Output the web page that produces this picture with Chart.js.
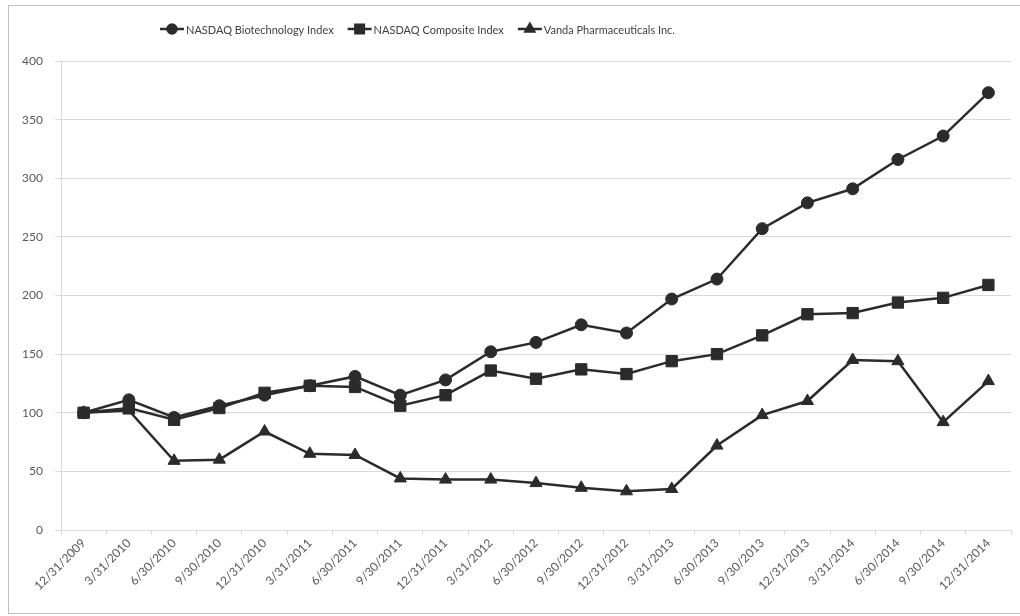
<!DOCTYPE html>
<html>
<head>
<meta charset="utf-8">
<script src="https://cdn.jsdelivr.net/npm/chart.js@4.4.1/dist/chart.umd.min.js"></script>
<style>
  html, body { margin: 0; padding: 0; background: #fff; }
  #wrap { width: 1020px; height: 616px; position: relative; }
</style>
</head>
<body>
<div id="wrap"><canvas id="c" width="1020" height="616"></canvas></div>
<script>
const categories = ["12/31/2009","3/31/2010","6/30/2010","9/30/2010","12/31/2010","3/31/2011","6/30/2011","9/30/2011","12/31/2011","3/31/2012","6/30/2012","9/30/2012","12/31/2012","3/31/2013","6/30/2013","9/30/2013","12/31/2013","3/31/2014","6/30/2014","9/30/2014","12/31/2014"];
const biotech   = [100, 111, 96, 106, 115, 123, 131, 115, 128, 152, 160, 175, 168, 197, 214, 257, 279, 291, 316, 336, 373];
const composite = [100, 104, 94, 104, 117, 123, 122, 106, 115, 136, 129, 137, 133, 144, 150, 166, 184, 185, 194, 198, 209];
const vanda     = [100, 102, 59, 60, 84, 65, 64, 44, 43, 43, 40, 36, 33, 35, 72, 98, 110, 145, 144, 92, 127];
const seriesNames = ["NASDAQ Biotechnology Index", "NASDAQ Composite Index", "Vanda Pharmaceuticals Inc."];
const yTicks = [0, 50, 100, 150, 200, 250, 300, 350, 400];

const lineColor = '#2b2b2b';
const textColor = '#595959';
const fontFamily = 'Lato, "Open Sans", "Liberation Sans", sans-serif';

const styles = ['circle', 'rect', 'triangle'];
const radii = [6, 8, 7];
const legendRadii = [4.5, 6, 5];

function mkDataset(i, data) {
  return {
    label: seriesNames[i],
    data: data,
    borderColor: lineColor,
    backgroundColor: lineColor,
    borderWidth: 2.5,
    pointStyle: styles[i],
    pointRadius: radii[i],
    pointBorderWidth: 1,
    pointBackgroundColor: lineColor,
    pointBorderColor: lineColor,
    tension: 0,
    fill: false
  };
}

const frameAndLegend = {
  id: 'frameAndLegend',
  afterDraw(chart) {
    const ctx = chart.ctx;
    ctx.save();
    // outer chart border
    ctx.strokeStyle = '#bfbfbf';
    ctx.lineWidth = 1;
    ctx.strokeRect(8.5, 5.5, 1015, 608);
    // legend with line-through markers
    ctx.font = '11px ' + fontFamily;
    ctx.textBaseline = 'middle';
    const lineLen = 24, gapAfterLine = 2, itemGap = 14;
    const widths = seriesNames.map(n => lineLen + gapAfterLine + ctx.measureText(n).width);
    let x = 160;
    const y = 29;
    seriesNames.forEach((name, i) => {
      ctx.strokeStyle = lineColor;
      ctx.lineWidth = 2.5;
      ctx.beginPath();
      ctx.moveTo(x, y);
      ctx.lineTo(x + lineLen, y);
      ctx.stroke();
      ctx.fillStyle = lineColor;
      Chart.helpers.drawPoint(ctx, {pointStyle: styles[i], radius: legendRadii[i], borderWidth: 1, rotation: 0}, x + lineLen / 2, y);
      ctx.fill();
      ctx.fillStyle = '#404040';
      ctx.textAlign = 'left';
      ctx.fillText(name, x + lineLen + gapAfterLine, y + 1);
      x += widths[i] + itemGap;
    });
    ctx.restore();
  }
};

new Chart(document.getElementById('c'), {
  type: 'line',
  data: {
    labels: categories,
    datasets: [mkDataset(0, biotech), mkDataset(1, composite), mkDataset(2, vanda)]
  },
  options: {
    responsive: false,
    animation: false,
    devicePixelRatio: 1,
    layout: { padding: { left: 8, right: 8, top: 61, bottom: 0 } },
    plugins: {
      legend: { display: false },
      tooltip: { enabled: false }
    },
    scales: {
      x: {
        offset: true,
        grid: { display: true, drawOnChartArea: false, drawTicks: true, tickLength: 5, color: '#d9d9d9', offset: true },
        border: { display: true, color: '#d9d9d9', width: 1 },
        ticks: {
          color: textColor,
          font: { family: fontFamily, size: 12 },
          minRotation: 45,
          maxRotation: 45,
          autoSkip: false,
          padding: 1
        },
        afterFit(scale) { scale.height = 86; }
      },
      y: {
        min: 0,
        max: 400,
        afterBuildTicks(scale) { scale.ticks = yTicks.map(v => ({ value: v })); },
        grid: { color: '#d9d9d9', lineWidth: 1, drawTicks: true, tickLength: 6 },
        border: { display: true, color: '#d9d9d9' },
        ticks: {
          color: textColor,
          font: { family: fontFamily, size: 12 },
          padding: 12
        },
        afterFit(scale) { scale.width = 53; }
      }
    }
  },
  plugins: [frameAndLegend]
});
</script>
</body>
</html>
